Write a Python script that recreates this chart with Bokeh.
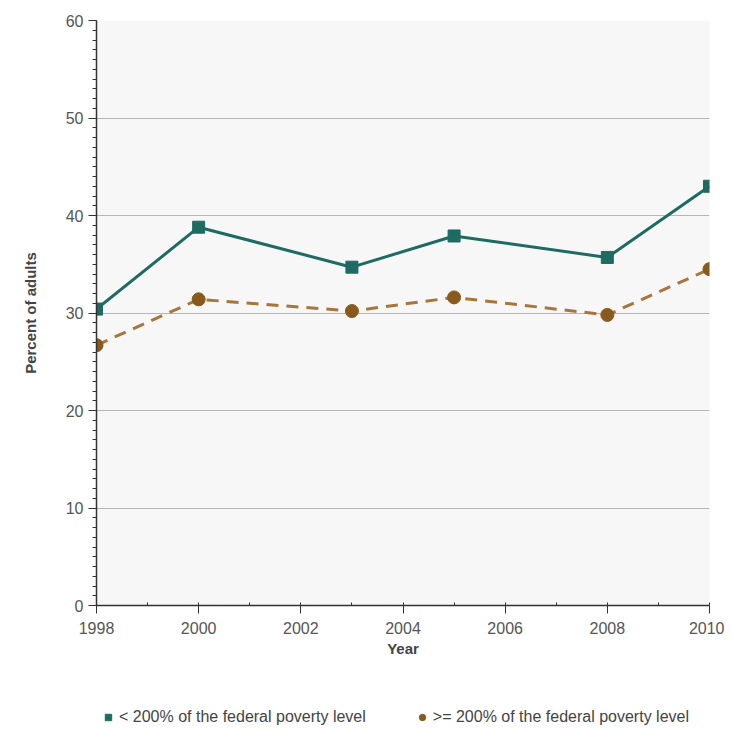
from bokeh.plotting import figure
from bokeh.layouts import column
from bokeh.models import Legend, LegendItem, SingleIntervalTicker, Range1d
from bokeh.embed import file_html
from bokeh.resources import INLINE

years = [1998, 2000, 2003, 2005, 2008, 2010]
below_200 = [30.4, 38.8, 34.7, 37.9, 35.7, 43.0]
above_200 = [26.7, 31.4, 30.2, 31.6, 29.8, 34.5]
label_below = "< 200% of the federal poverty level"
label_above = ">= 200% of the federal poverty level"

TEAL = "#1d6b62"
BROWN = "#8a5a1c"
TAN = "#a8763a"
FONT = "Liberation Sans"

p = figure(width=724, height=672, output_backend="svg", toolbar_location=None,
           x_range=Range1d(1998, 2010), y_range=Range1d(0, 60),
           min_border_left=96, min_border_right=15, min_border_top=20, min_border_bottom=67)
p.background_fill_color = "#f7f7f7"
p.border_fill_color = "white"
p.outline_line_color = None

p.xgrid.grid_line_color = None
p.ygrid.grid_line_color = "#b5b5b5"
p.ygrid.grid_line_width = 1

p.xaxis.ticker = SingleIntervalTicker(interval=2, num_minor_ticks=2)
p.yaxis.ticker = SingleIntervalTicker(interval=10, num_minor_ticks=10)
for ax in (p.xaxis, p.yaxis):
    ax.axis_line_color = "#333333"
    ax.axis_line_width = 1.5
    ax.major_tick_line_color = "#333333"
    ax.minor_tick_line_color = "#333333"
    ax.major_tick_out = 8
    ax.major_tick_in = 0
    ax.minor_tick_out = 4
    ax.minor_tick_in = 0
    ax.major_label_text_font = FONT
    ax.major_label_text_font_size = "16px"
    ax.major_label_text_color = "#555555"
    ax.axis_label_text_font = FONT
    ax.axis_label_text_font_size = "15px"
    ax.axis_label_text_font_style = "bold"
    ax.axis_label_text_color = "#444444"
p.xaxis.minor_tick_out = 0
p.xaxis.minor_tick_in = 3
p.xaxis.axis_label = "Year"
p.yaxis.axis_label = "Percent of adults"
p.xaxis.axis_label_standoff = 3
p.yaxis.axis_label_standoff = 24
p.xaxis.major_label_standoff = 8

p.line(years, below_200, line_color=TEAL, line_width=3)
p.scatter(years, below_200, marker="square", size=12, fill_color=TEAL, line_color=TEAL)
p.line(years, above_200, line_color=TAN, line_width=3, line_dash="12 8")
p.scatter(years, above_200, marker="circle", size=13, fill_color=BROWN, line_color=BROWN)

# legend strip below the chart (its markers sit outside the visible range)
lg = figure(width=724, height=56, output_backend="svg", toolbar_location=None,
            x_range=Range1d(1998, 2010), y_range=Range1d(100, 101),
            x_axis_type=None, y_axis_type=None,
            min_border_left=96, min_border_right=15, min_border_top=0, min_border_bottom=0)
lg.outline_line_color = None
lg.grid.visible = False
lg.background_fill_color = "white"
k1 = lg.scatter(years, below_200, marker="square", size=12, fill_color=TEAL, line_color=TEAL)
k2 = lg.scatter(years, above_200, marker="circle", size=13, fill_color=BROWN, line_color=BROWN)

legend = Legend(items=[LegendItem(label=label_below, renderers=[k1]),
                       LegendItem(label=label_above, renderers=[k2])],
                orientation="horizontal", location=(4, 2),
                label_text_font=FONT, label_text_font_size="16px", label_text_color="#444444",
                spacing=48, label_standoff=3, glyph_width=16, glyph_height=16,
                border_line_color=None, background_fill_alpha=0, margin=0, padding=0)
lg.add_layout(legend, "center")

layout = column(p, lg, spacing=0)
open("out.html", "w").write(file_html(layout, INLINE))
